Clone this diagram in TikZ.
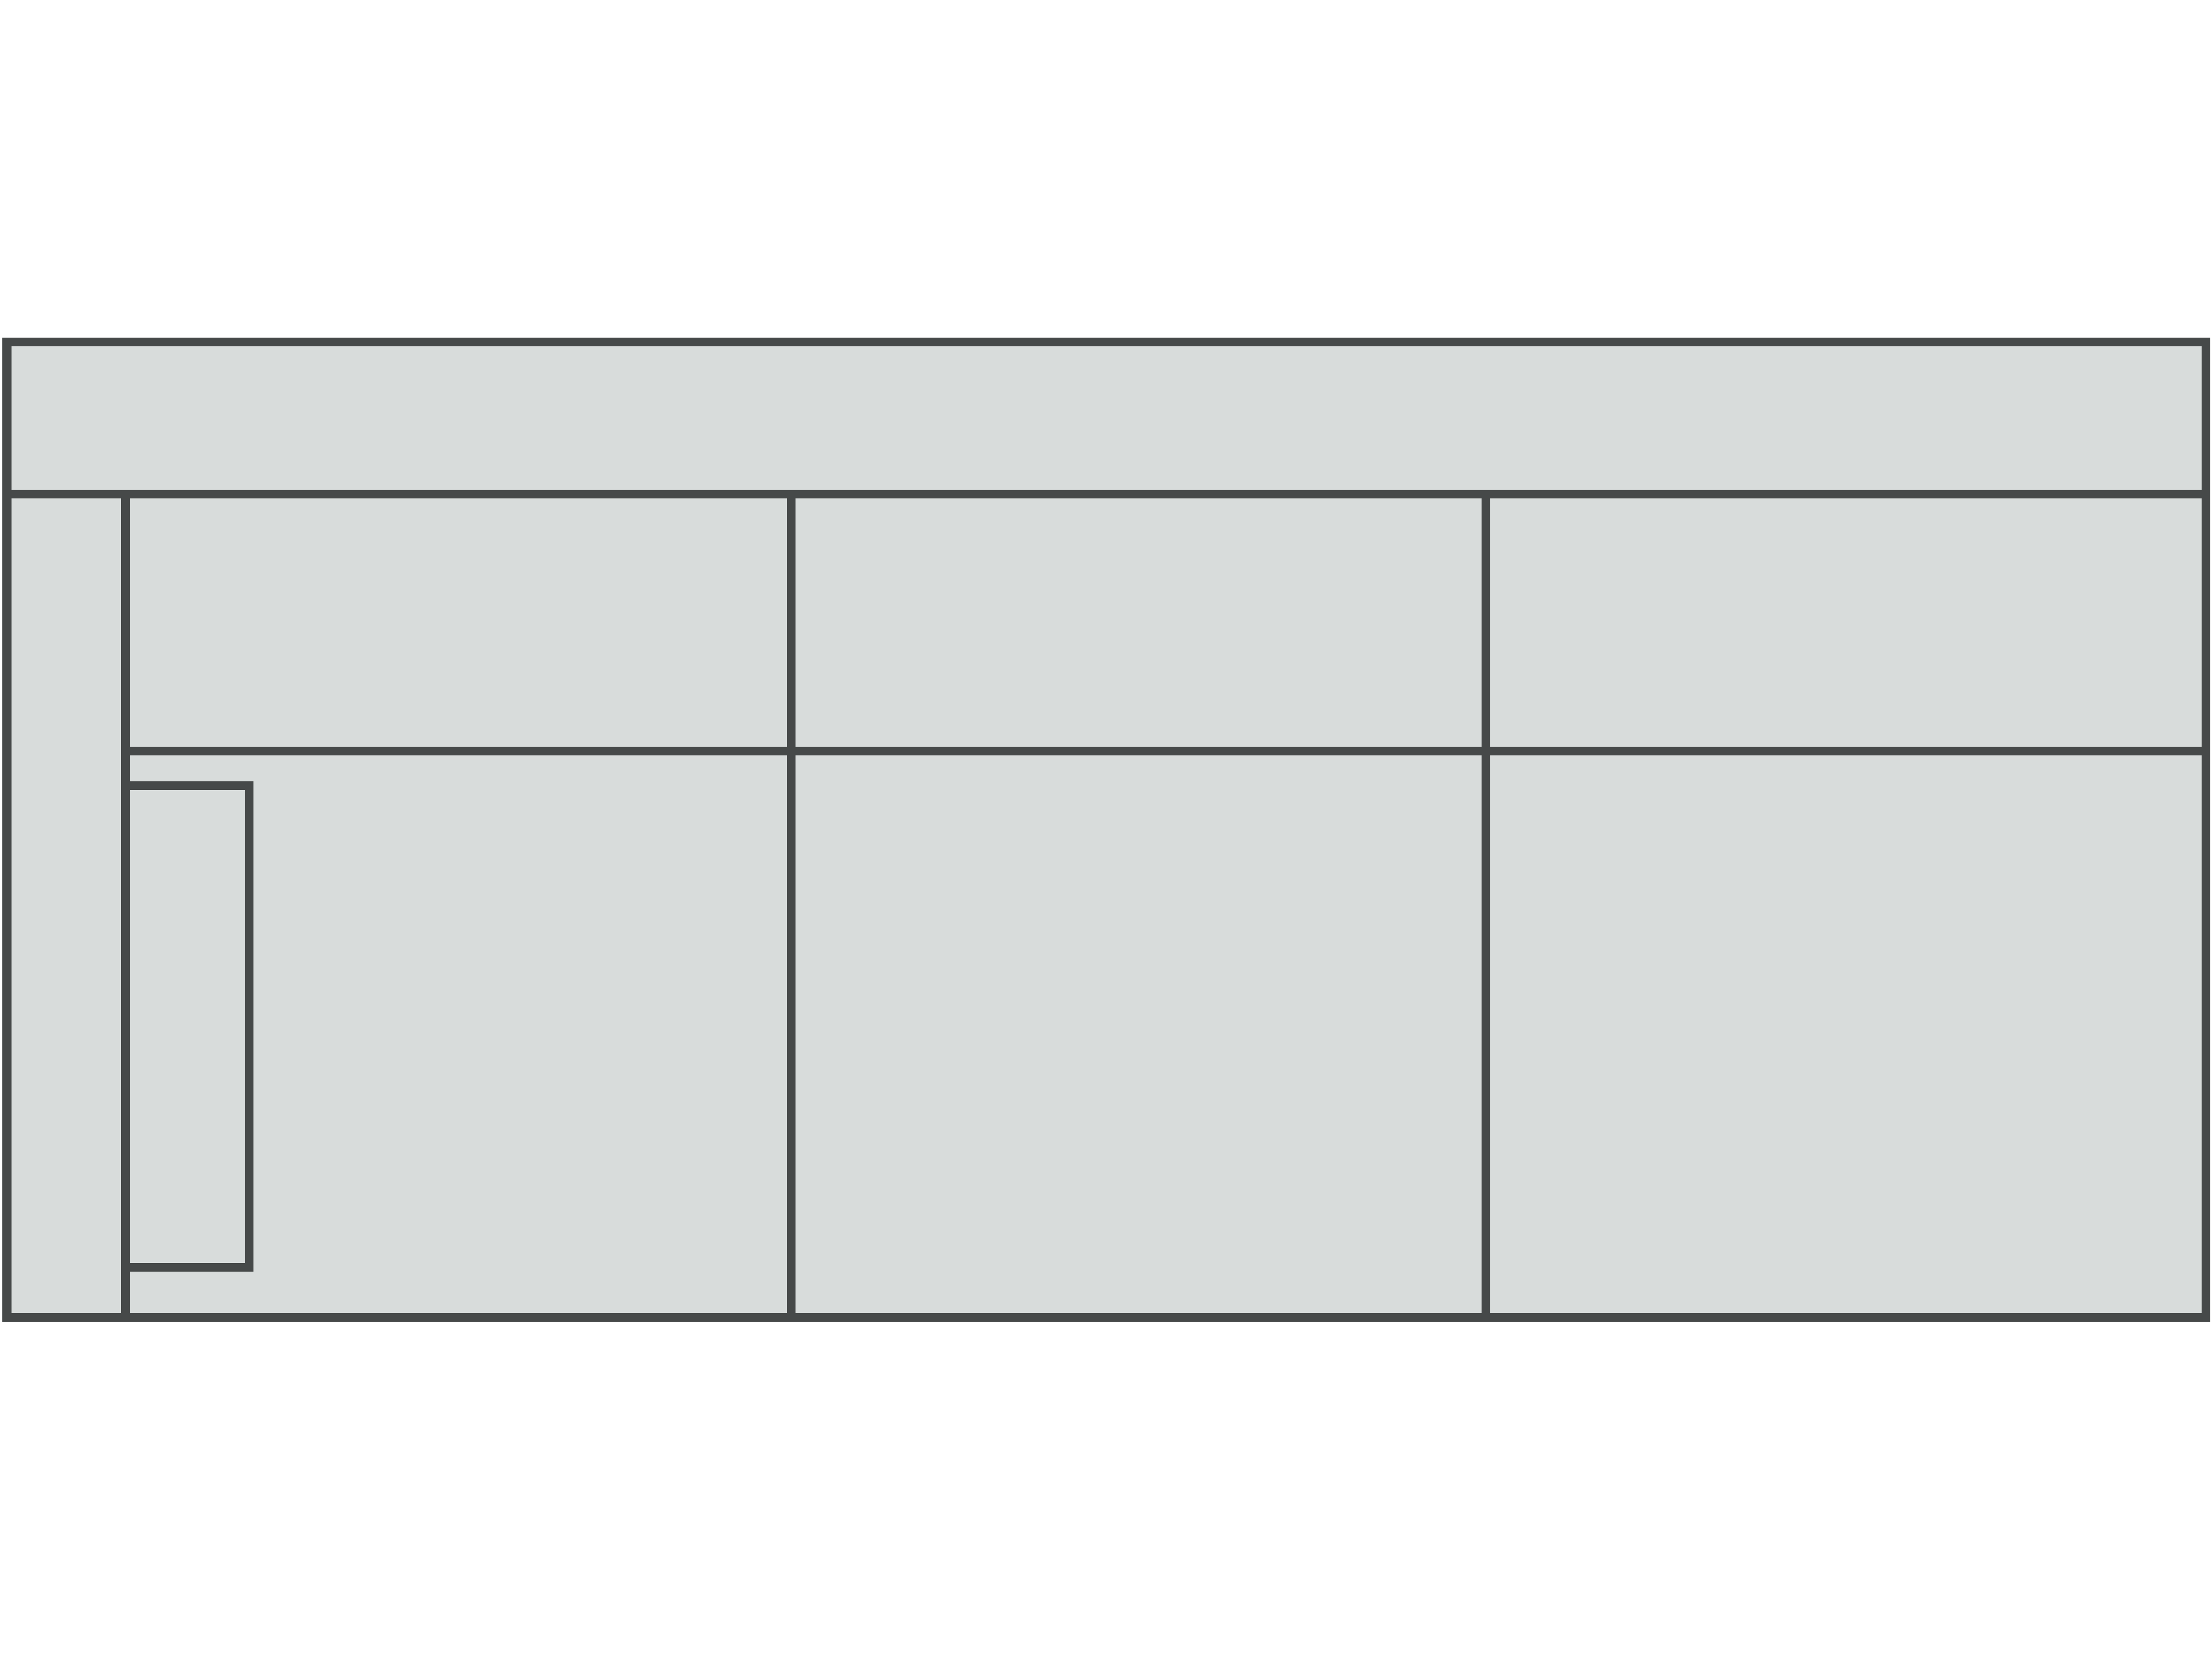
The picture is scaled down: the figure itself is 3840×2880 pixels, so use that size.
\documentclass[tikz,border=0pt]{standalone}
\definecolor{panel}{RGB}{216,220,219}
\definecolor{frame}{RGB}{70,73,73}
\begin{document}
\begin{tikzpicture}[x=0.01cm,y=-0.01cm,
  wall/.style={draw=frame,line width=0.15cm,line join=miter}]
\useasboundingbox (0,0) rectangle (3840,2880);
\fill[white] (0,0) rectangle (3840,2880);
% outer panel
\fill[panel] (12,593) rectangle (3829,2286);
% top band divider
\draw[wall] (12,857) -- (3829,857);
% left column divider
\draw[wall] (218,857) -- (218,2286);
% column dividers
\draw[wall] (1373,857) -- (1373,2286);
\draw[wall] (2579,857) -- (2579,2286);
% middle horizontal
\draw[wall] (218,1303) -- (3829,1303);
% small inner rectangle
\draw[wall] (218,1363) -- (432,1363) -- (432,2199) -- (218,2199);
% outer frame
\draw[wall] (12,593) rectangle (3829,2286);
\end{tikzpicture}
\end{document}
